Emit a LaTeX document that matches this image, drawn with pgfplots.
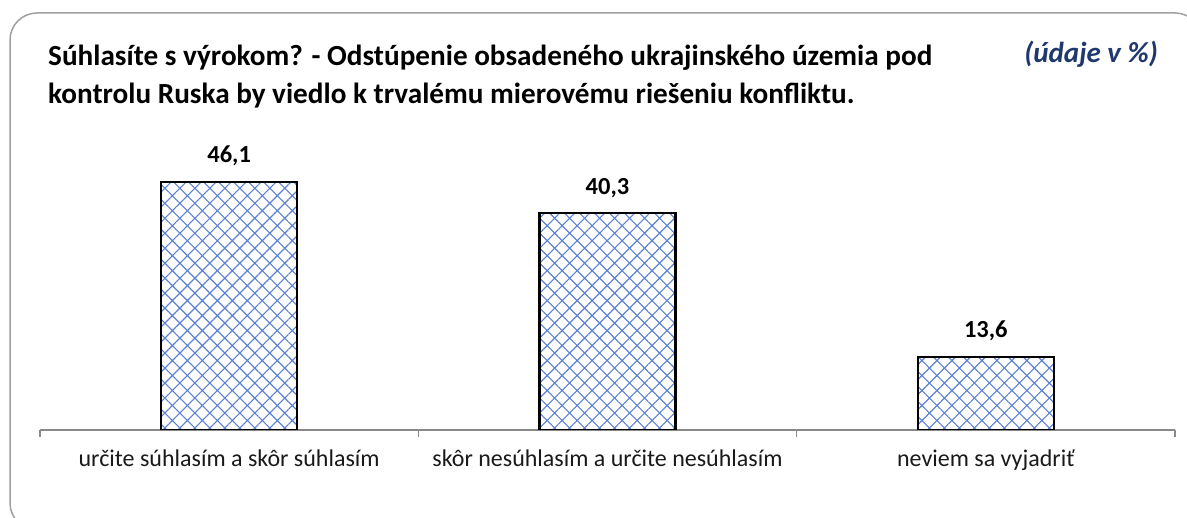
\documentclass[border=0pt]{standalone}
\usepackage{pgfplots}
\pgfplotsset{compat=1.18}
\usepackage{fontspec}
\setmainfont{Carlito}
\usetikzlibrary{patterns.meta}
\definecolor{hatchblue}{RGB}{92,128,212}
\definecolor{framegray}{RGB}{160,160,160}
\definecolor{axisgray}{RGB}{137,137,137}
\definecolor{navy}{RGB}{31,56,110}
\begin{document}
\begin{tikzpicture}[x=1pt,y=1pt]
\useasboundingbox (0,0) rectangle (1187,518);
\begin{scope}
\clip (0,0) rectangle (1187,518);
\draw[framegray, line width=1.5pt, rounded corners=27pt] (10,505) rectangle (1202,-12);
\end{scope}
\node[anchor=base west, inner sep=0pt, font=\fontsize{29.2}{34}\selectfont\bfseries] at (48,452) {Súhlasíte s výrokom? - Odstúpenie obsadeného ukrajinského územia pod};
\node[anchor=base west, inner sep=0pt, font=\fontsize{29.2}{34}\selectfont\bfseries] at (48,414) {kontrolu Ruska by viedlo k trvalému mierovému riešeniu konfliktu.};
\node[anchor=base east, inner sep=0pt, font=\fontsize{29}{34}\selectfont\bfseries\itshape, text=navy] at (1158,455) {(údaje v \%)};
\begin{axis}[
  at={(40pt,88pt)}, anchor=south west,
  scale only axis, width=1135pt, height=269pt,
  xmin=-0.5, xmax=2.5, ymin=0, ymax=50,
  axis y line=none, axis x line=bottom,
  x axis line style={-, axisgray, line width=1.5pt},
  xtick={0,1,2},
  xticklabels={určite súhlasím a skôr súhlasím, skôr nesúhlasím a určite nesúhlasím, neviem sa vyjadriť},
  major tick length=0pt,
  minor xtick={-0.5,0.5,1.5,2.5},
  minor tick length=7pt,
  tick align=outside,
  minor tick style={axisgray, line width=1.5pt},
  xticklabel style={font=\fontsize{24}{28}\selectfont, anchor=base, yshift=-37pt, text=black!90},
  ybar, bar width=136pt,
  nodes near coords,
  nodes near coords style={font=\fontsize{24.5}{28}\selectfont\bfseries, anchor=base, yshift=19pt, text=black},
  /pgf/number format/.cd, use comma, fixed, fixed zerofill, precision=1, assume math mode=true,
]
\addplot[draw=black, line width=2.5pt, pattern={Hatch[angle=45,distance=10.6pt,line width=1.1pt]}, pattern color=hatchblue]
  coordinates {(0,46.1) (1,40.3) (2,13.6)};
\end{axis}
\end{tikzpicture}
\end{document}
